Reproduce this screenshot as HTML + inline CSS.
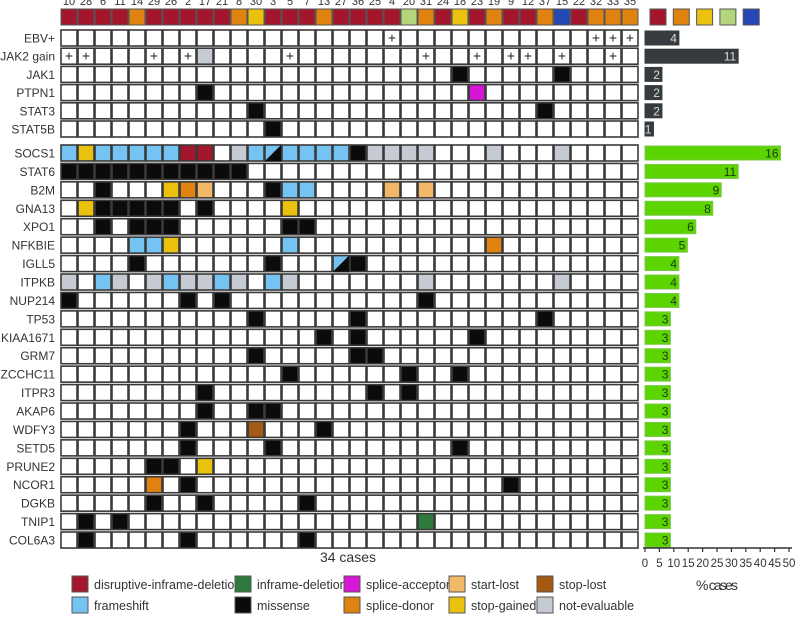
<!DOCTYPE html>
<html><head><meta charset="utf-8">
<style>
html,body{margin:0;padding:0;background:#fff;}
svg{display:block;font-family:"Liberation Sans",sans-serif;}
</style></head>
<body>
<svg id="chart" width="800" height="618" viewBox="0 0 800 618" xmlns="http://www.w3.org/2000/svg"></svg>
<script>
const caseIds = ["10","28","6","11","14","29","26","2","17","21","8","30","3","5","7","13","27","36","25","4","20","31","24","18","23","19","9","12","37","15","22","32","33","35"];
const caseTypes = ["r","r","r","r","o","r","r","r","r","r","o","y","r","r","r","o","r","r","r","r","g","o","r","y","r","o","r","r","o","b","r","o","o","o"];
const topGenes = ["EBV+","JAK2 gain","JAK1","PTPN1","STAT3","STAT5B"];
const topCounts = [4,11,2,2,2,1];
const topCells = [
 {19:"+",31:"+",32:"+",33:"+"},
 {0:"+",1:"+",5:"+",7:"+",8:"NE",13:"+",21:"+",24:"+",26:"+",27:"+",29:"+",32:"+"},
 {23:"MS",29:"MS"},
 {8:"MS",24:"SA"},
 {11:"MS",28:"MS"},
 {12:"MS"}
];
const genes = ["SOCS1","STAT6","B2M","GNA13","XPO1","NFKBIE","IGLL5","ITPKB","NUP214","TP53","KIAA1671","GRM7","ZCCHC11","ITPR3","AKAP6","WDFY3","SETD5","PRUNE2","NCOR1","DGKB","TNIP1","COL6A3"];
const counts = [16,11,9,8,6,5,4,4,4,3,3,3,3,3,3,3,3,3,3,3,3,3];
const cells = [
 {0:"FS",1:"SG",2:"FS",3:"FS",4:"FS",5:"FS",6:"FS",7:"DID",8:"DID",10:"NE",11:"FS",12:"FS/MS",13:"FS",14:"FS",15:"FS",16:"FS",17:"MS",18:"NE",19:"NE",20:"NE",21:"NE",25:"NE",29:"NE"},
 {0:"MS",1:"MS",2:"MS",3:"MS",4:"MS",5:"MS",6:"MS",7:"MS",8:"MS",9:"MS",10:"MS"},
 {2:"MS",6:"SG",7:"SD",8:"SL",12:"MS",13:"FS",14:"FS",19:"SL",21:"SL"},
 {1:"SG",2:"MS",3:"MS",4:"MS",5:"MS",6:"MS",8:"MS",13:"SG"},
 {2:"MS",4:"MS",5:"MS",6:"MS",13:"MS",14:"MS"},
 {4:"FS",5:"FS",6:"SG",13:"FS",25:"SD"},
 {4:"MS",12:"MS",16:"FS/MS",17:"MS"},
 {0:"NE",2:"FS",3:"NE",5:"NE",6:"FS",7:"NE",8:"NE",9:"FS",10:"NE",12:"FS",13:"NE",21:"NE",29:"NE"},
 {0:"MS",7:"MS",9:"MS",21:"MS"},
 {11:"MS",17:"MS",28:"MS"},
 {15:"MS",17:"MS",24:"MS"},
 {11:"MS",17:"MS",18:"MS"},
 {13:"MS",20:"MS",23:"MS"},
 {8:"MS",18:"MS",20:"MS"},
 {8:"MS",11:"MS",12:"MS"},
 {7:"MS",11:"STL",15:"MS"},
 {7:"MS",12:"MS",23:"MS"},
 {5:"MS",6:"MS",8:"SG"},
 {5:"SD",7:"MS",26:"MS"},
 {5:"MS",8:"MS",14:"MS"},
 {1:"MS",3:"MS",21:"ID"},
 {1:"MS",7:"MS",14:"MS"}
];
const axisTicks = [0,5,10,15,20,25,30,35,40,45,50];
const legendLabels = [["DID","disruptive-inframe-deletion"],["ID","inframe-deletion"],["SA","splice-acceptor"],["SL","start-lost"],["STL","stop-lost"],["FS","frameshift"],["MS","missense"],["SD","splice-donor"],["SG","stop-gained"],["NE","not-evaluable"]];
const typeKeys = ["r","o","y","g","b"];

const COL = {DID:"#a3162b",ID:"#2f7a3d",SA:"#d616d6",SL:"#f1b868",STL:"#a45a12",FS:"#74c3f2",MS:"#0b0b0b",SD:"#e0820f",SG:"#eac20d",NE:"#c6cbd3"};
const TCOL = {r:"#a3162b",o:"#e0820f",y:"#eac20d",g:"#b3d67c",b:"#2548b5"};

const svg = document.getElementById('chart');
const NS = "http://www.w3.org/2000/svg";
function mk(tag, attrs, parent){const e=document.createElementNS(NS,tag);for(const k in attrs)e.setAttribute(k,attrs[k]);(parent||svg).appendChild(e);return e;}
const x0=61, pitch=17, cw=16;
const colX = i => x0 + i*pitch;
const topY = r => 30 + r*18.2;
const botY = r => 145 + r*18.43;
const nCases = 34;
const pctX = p => 645 + p*2.88;

// case ids
caseIds.forEach((id,i)=>{
  const t=mk('text',{x:colX(i)+cw/2,y:5,'text-anchor':'middle','font-size':11,fill:'#333'});
  t.textContent=id;
  
  
  const r=mk('rect',{x:colX(i),y:9,width:cw,height:16,fill:TCOL[caseTypes[i]],stroke:'#555','stroke-width':1});
  
  
});
typeKeys.forEach((k,i)=>{
  const r=mk('rect',{x:650+i*23.3,y:9,width:16,height:16,fill:TCOL[k],stroke:'#555','stroke-width':1});
  
  
});

function drawCell(x,y,v,name){
  const g=mk('g',{});
  
  
  let fill='#fff';
  if(v && COL[v]) fill=COL[v];
  mk('rect',{x:x,y:y,width:cw,height:16,fill:fill,stroke:'#3a3a3a','stroke-width':1.6},g);
  if(v && v.indexOf('/')>0){
    const [a,b]=v.split('/');
    mk('rect',{x:x,y:y,width:cw,height:16,fill:COL[a],stroke:'#3a3a3a','stroke-width':1.6},g);
    mk('polygon',{points:`${x+cw},${y} ${x+cw},${y+16} ${x},${y+16}`,fill:COL[b]},g);
  }
  if(v==='+'){
    const t=mk('text',{x:x+cw/2,y:y+12.5,'text-anchor':'middle','font-size':14,fill:'#222'},g);
    t.textContent='+';
  }
}
function drawRow(label,y,rowCells,count,dark,idx){
  const t=mk('text',{x:55,y:y+12.5,'text-anchor':'end','font-size':12,fill:'#333'});
  t.textContent=label;
  
  
  for(let i=0;i<nCases;i++) drawCell(colX(i),y,rowCells[i],'cell-'+idx+'-'+i);
  const w=pctX(count/nCases*100)-645;
  const b=mk('rect',{x:645,y:y+1,width:w,height:14,fill:dark?'#353b3e':'#5bd400',stroke:dark?'#353b3e':'#7bc84a','stroke-width':1});
  
  
  const bt=mk('text',{x:645+w-2,y:y+12.5,'text-anchor':'end','font-size':12,fill:dark?'#ddd':'#1d3a10'});
  bt.textContent=count;
  
  
}
topGenes.forEach((g,r)=>drawRow(g,topY(r),topCells[r],topCounts[r],true,'t'+r));
genes.forEach((g,r)=>drawRow(g,botY(r),cells[r],counts[r],false,'b'+r));

// axis
const ax=mk('g',{});


mk('line',{x1:643,y1:548,x2:792,y2:548,stroke:'#333','stroke-width':1.5},ax);
axisTicks.forEach(v=>{
  mk('line',{x1:pctX(v),y1:548,x2:pctX(v),y2:552,stroke:'#333','stroke-width':1.2},ax);
  const t=mk('text',{x:pctX(v),y:567,'text-anchor':'middle','font-size':11.5,fill:'#333'},ax);
  t.textContent=v;
});
const at=mk('text',{x:717,y:590,'text-anchor':'middle','font-size':14,fill:'#333',textLength:42});
at.textContent='% cases';



const ct=mk('text',{x:348,y:562,'text-anchor':'middle','font-size':14,fill:'#333'});
ct.textContent='34 cases';



// legend
const lx=[72,235,344,449,537];
legendLabels.forEach((l,i)=>{
  const col=i%5, row=Math.floor(i/5);
  const y=576+row*21;
  const g=mk('g',{});
  
  
  mk('rect',{x:lx[col],y:y,width:16,height:16,fill:COL[l[0]],stroke:'#555','stroke-width':1},g);
  const t=mk('text',{x:lx[col]+22,y:y+13,'font-size':12.5,fill:'#333'},g);
  t.textContent=l[1];
});
</script>
</body></html>
